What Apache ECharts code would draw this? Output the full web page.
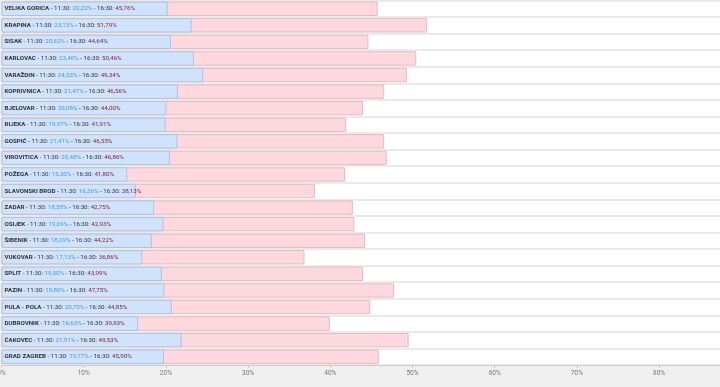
<!DOCTYPE html>
<html><head><meta charset="utf-8">
<script src="https://cdn.jsdelivr.net/npm/echarts@6/dist/echarts.min.js"></script>
<style>html,body{margin:0;padding:0;background:#efefef}#c{width:720px;height:387px}</style>
</head><body><div id="c"></div>
<script>
const categories = ["VELIKA GORICA","KRAPINA","SISAK","KARLOVAC","VARAŽDIN","KOPRIVNICA","BJELOVAR","RIJEKA","GOSPIĆ","VIROVITICA","POŽEGA","SLAVONSKI BROD","ZADAR","OSIJEK","ŠIBENIK","VUKOVAR","SPLIT","PAZIN","PULA - POLA","DUBROVNIK","ČAKOVEC","GRAD ZAGREB"];
const turnout1130 = [20.22,23.13,20.62,23.40,24.53,21.47,20.08,19.97,21.41,20.48,15.30,16.36,18.58,19.69,18.29,17.13,19.50,19.80,20.70,16.63,21.91,19.77];
const turnout1630 = [45.76,51.79,44.64,50.46,49.34,46.56,44.00,41.91,46.55,46.86,41.80,38.13,42.75,42.93,44.22,36.86,43.99,47.75,44.85,39.93,49.53,45.90];
const xTicks = [0,10,20,30,40,50,60,70,80,90];

const fmt = v => v.toFixed(2).replace('.', ',') + '%';
const chart = echarts.init(document.getElementById('c'));
chart.setOption({
  backgroundColor: '#efefef',
  animation: false,
  textStyle: {fontFamily: 'Roboto'},
  grid: {left: 1.5, top: 0.5, bottom: 22, width: 739.8, containLabel: false, outerBoundsMode: 'none', show: true, backgroundColor: '#ffffff', borderWidth: 0},
  xAxis: {
    type: 'value', min: xTicks[0], max: xTicks[xTicks.length-1], interval: 10,
    axisLine: {show: true, lineStyle: {color: '#cccccc', width: 1}},
    axisTick: {show: true, length: 3, lineStyle: {color: '#cccccc'}},
    splitLine: {show: false},
    axisLabel: {fontSize: 6.5, color: '#777777', margin: 5, formatter: v => v + '%'}
  },
  yAxis: {
    type: 'category', data: categories, inverse: true,
    axisLine: {show: false}, axisTick: {show: false}, axisLabel: {show: false},
    splitLine: {show: true, lineStyle: {color: '#e3e3e3', width: 1.6}}
  },
  series: [
    {
      name: '16:30', type: 'bar', data: turnout1630, barCategoryGap: '13%',
      itemStyle: {color: '#fed8df', borderColor: '#e8b9c2', borderWidth: 1},
      z: 2
    },
    {
      name: '11:30', type: 'bar', data: turnout1130, barGap: '-100%', barCategoryGap: '13%',
      itemStyle: {color: '#d0e2fc', borderColor: '#adc3e3', borderWidth: 1},
      z: 3,
      label: {
        show: true, position: 'insideLeft', distance: 3,
        formatter: p => '{b|' + p.name + '}{n| - 11:30: }{v|' + fmt(turnout1130[p.dataIndex]) + '}{n| - 16:30: }{w|' + fmt(turnout1630[p.dataIndex]) + '}',
        rich: {
          b: {fontSize: 6.2, fontWeight: 'bold', color: '#333333', fontFamily: 'Roboto'},
          n: {fontSize: 6.2, color: '#333333', fontFamily: 'Roboto'},
          v: {fontSize: 6.2, color: '#4a9be0', fontFamily: 'Roboto'},
          w: {fontSize: 6.2, color: '#7d2440', fontFamily: 'Roboto'}
        }
      }
    }
  ]
});
</script></body></html>
